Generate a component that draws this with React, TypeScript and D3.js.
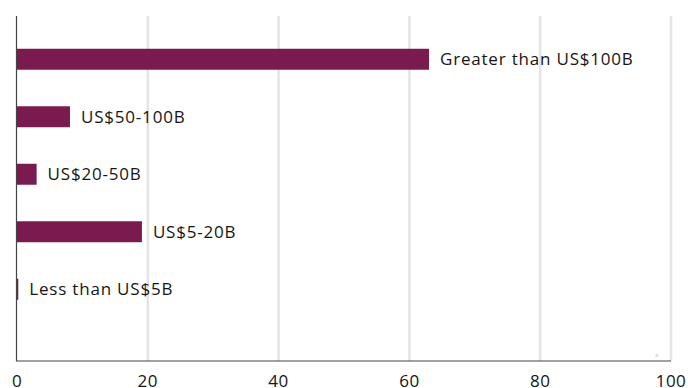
import React from "react";
import * as d3 from "d3";

const categories = [
  "Greater than US$100B",
  "US$50-100B",
  "US$20-50B",
  "US$5-20B",
  "Less than US$5B",
];
const values = [63.0, 8.1, 3.0, 19.1, 0.2];
const xTicks = [0, 20, 40, 60, 80, 100];

const W = 688;
const H = 388;
const left = 17;
const right = 671;
const top = 16;
const bottom = 361;

export default function App() {
  const x = d3.scaleLinear().domain([0, 100]).range([left, right]);
  const y = d3
    .scaleBand<string>()
    .domain(categories)
    .range([30.5, 318])
    .paddingInner(0.635)
    .paddingOuter(0.3175);
  const bh = y.bandwidth();
  const font = "'Open Sans', Lato, sans-serif";
  return (
    <svg
      width={W}
      height={H}
      style={{ position: "absolute", left: 0, top: 0, display: "block" }}
    >
      <rect width={W} height={H} fill="#fff" />
      {xTicks
        .filter((t) => t > 0)
        .map((t) => (
          <line
            key={t}
            x1={x(t)}
            x2={x(t)}
            y1={top}
            y2={bottom}
            stroke="#e4e4e4"
            strokeWidth={2.5}
          />
        ))}
      {categories.map((c, i) => (
        <g key={c}>
          <rect
            x={x(0)}
            y={y(c)}
            width={x(values[i]) - x(0)}
            height={bh}
            fill="#7b1a4e"
          />
          <text
            x={x(values[i]) + 11}
            y={(y(c) as number) + bh / 2}
            dy="0.36em"
            fontFamily={font}
            fontSize={17}
            fontWeight={500}
            letterSpacing={0.8}
            fill="#151515"
          >
            {c}
          </text>
        </g>
      ))}
      <line x1={left - 0.5} x2={left - 0.5} y1={top} y2={bottom} stroke="#444" strokeWidth={1.2} />
      <line x1={left - 1} x2={right} y1={bottom} y2={bottom} stroke="#444" strokeWidth={1.2} />
      <circle cx={657} cy={355.5} r={1.6} fill="#dcdcdc" />
      {xTicks.map((t) => (
        <text
          key={t}
          x={x(t)}
          y={387}
          textAnchor="middle"
          fontFamily={font}
          fontSize={17}
          letterSpacing={0.5}
          fill="#151515"
        >
          {t}
        </text>
      ))}
    </svg>
  );
}
